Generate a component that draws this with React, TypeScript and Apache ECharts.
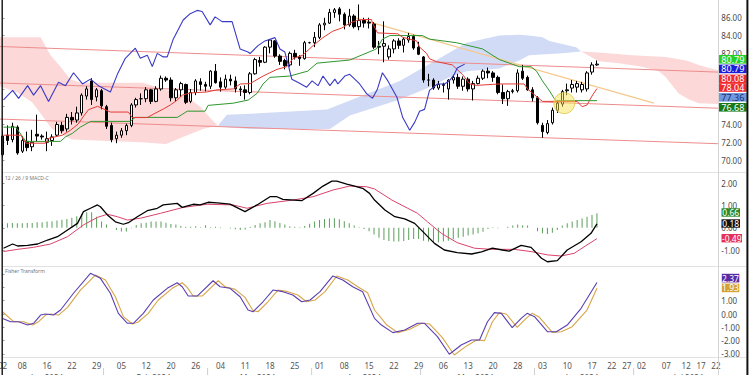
import React, { useEffect, useRef } from "react";
import * as echarts from "echarts";

const FONT = '"Noto Sans", "DejaVu Sans", sans-serif';
const SLOT_COUNT = 145;

// one slot per weekday starting 2024-01-03 (trading days + future area)
const categories: string[] = (() => {
  const out: string[] = [];
  const d = new Date(Date.UTC(2024, 0, 3));
  while (out.length < SLOT_COUNT) {
    const wd = d.getUTCDay();
    if (wd !== 0 && wd !== 6) out.push(d.toISOString().slice(0, 10));
    d.setUTCDate(d.getUTCDate() + 1);
  }
  return out;
})();

// x-axis tick labels: [slot index, text]
const tickLabels: [number, string][] = [
  [3, "08"], [8, "16"], [13, "22"], [18, "29"], [23, "05"], [28, "12"], [33, "20"], [38, "26"],
  [43, "04"], [48, "11"], [53, "18"], [58, "25"], [63, "01"], [68, "08"], [73, "15"], [78, "22"],
  [83, "29"], [88, "06"], [93, "13"], [98, "20"], [103, "28"], [108, "03"], [113, "10"], [118, "17"],
  [122, "22"], [125, "27"], [128, "02"], [133, "07"], [137, "12"], [140, "17"], [143, "22"],
];

// month band below the tick labels: [text, first slot, last slot]
const monthBands: [string, number, number][] = [
  ["Jan 2024", -2, 20], ["Feb 2024", 20, 41], ["Mar 2024", 41, 62], ["Apr 2024", 62, 84],
  ["May 2024", 84, 107], ["Jun 2024", 107, 127], ["Jul 2024", 127, 150],
];

// y-axis values whose labels sit fully under the last-value badges
const coveredMainTicks = [76, 78, 80];
const coveredFisherTicks = [2, 3];

// daily bars: [open, close, low, high]
const priceBars: number[][] = [
  [70.6, 72.7, 70.3, 73.3], [72.8, 72.2, 71.7, 73.9], [72.3, 73.8, 72.0, 74.2], [73.7, 70.8, 70.6, 73.9],
  [71.0, 72.2, 70.8, 72.7], [72.1, 71.4, 71.0, 73.2], [71.5, 72.0, 71.0, 73.4], [72.9, 72.7, 72.1, 75.1],
  [72.7, 72.6, 72.3, 72.9], [72.0, 72.4, 71.0, 73.2], [72.2, 72.6, 71.6, 72.9], [72.8, 74.0, 72.6, 74.3],
  [73.9, 73.3, 73.0, 74.3], [73.5, 74.8, 73.2, 75.2], [74.8, 74.5, 74.0, 75.4], [74.5, 75.3, 74.2, 76.0],
  [75.3, 77.3, 75.0, 77.5], [77.2, 78.0, 76.8, 78.3], [78.9, 76.8, 76.2, 79.2], [77.1, 77.9, 76.6, 78.1],
  [77.8, 76.1, 75.7, 78.0], [76.0, 73.8, 73.5, 76.2], [73.9, 72.3, 72.0, 74.2], [72.4, 72.8, 71.9, 73.2],
  [72.8, 73.3, 72.5, 73.6], [73.3, 73.9, 72.8, 74.1], [73.9, 76.2, 73.7, 76.4], [76.2, 76.8, 75.9, 77.0],
  [76.9, 76.9, 76.2, 77.5], [76.9, 77.9, 76.5, 78.2], [77.9, 76.6, 76.3, 78.0], [76.6, 78.0, 76.5, 78.3],
  [78.0, 79.2, 77.8, 79.5], [79.2, 79.0, 78.8, 79.4], [79.0, 77.0, 76.6, 79.3], [77.0, 77.9, 76.6, 78.1],
  [77.9, 78.6, 77.1, 78.8], [78.5, 76.5, 76.3, 78.6], [76.6, 77.6, 76.4, 78.0], [77.6, 78.9, 77.3, 79.1],
  [78.8, 78.5, 77.8, 79.2], [78.5, 78.3, 77.7, 78.8], [78.3, 80.0, 78.0, 80.1], [80.0, 78.7, 78.6, 80.8],
  [78.8, 78.2, 77.7, 79.3], [78.2, 79.1, 78.0, 79.6], [79.1, 78.9, 78.4, 79.6], [78.9, 78.0, 77.6, 79.4],
  [78.0, 77.9, 77.2, 78.3], [77.9, 77.6, 76.8, 78.4], [77.6, 79.7, 77.4, 79.9], [79.7, 81.3, 79.6, 81.5],
  [81.2, 81.0, 80.5, 81.6], [81.0, 82.7, 80.9, 82.8], [82.7, 83.5, 82.0, 83.6], [83.4, 81.7, 81.5, 83.5],
  [81.7, 81.1, 80.7, 81.9], [81.2, 80.6, 80.2, 81.4], [80.7, 82.0, 80.5, 82.2], [82.0, 81.6, 81.3, 82.4],
  [81.6, 81.4, 80.6, 81.8], [81.4, 83.2, 81.3, 83.4], [83.2, 83.2, 83.1, 83.3], [83.2, 83.8, 82.7, 84.4],
  [83.8, 85.2, 83.6, 85.4], [85.2, 85.4, 84.6, 86.0], [85.4, 86.6, 85.3, 87.0], [86.6, 86.9, 86.0, 87.1],
  [87.0, 86.4, 85.6, 87.2], [86.4, 85.2, 84.7, 86.6], [85.2, 86.2, 85.0, 87.0], [86.2, 85.0, 84.8, 86.4],
  [85.0, 85.7, 84.6, 87.5], [85.7, 85.4, 84.9, 86.0], [85.5, 85.4, 84.8, 86.0], [85.3, 82.7, 82.5, 85.5],
  [82.8, 82.7, 81.9, 83.4], [82.8, 83.1, 81.0, 85.6], [81.6, 82.5, 81.3, 82.9], [82.5, 83.4, 82.0, 83.6],
  [83.4, 82.9, 82.5, 83.7], [82.9, 83.6, 82.1, 83.8], [83.5, 83.9, 83.2, 84.3], [83.9, 82.6, 82.4, 84.1],
  [82.7, 81.9, 81.8, 83.3], [81.6, 79.0, 78.7, 81.7], [79.0, 79.0, 78.3, 79.7], [79.0, 78.1, 77.9, 79.2],
  [78.1, 78.5, 77.9, 78.9], [78.5, 78.4, 77.6, 78.7], [78.0, 79.0, 76.8, 79.1], [79.0, 79.3, 78.6, 79.6],
  [79.3, 78.3, 78.0, 79.7], [78.3, 79.1, 77.8, 79.4], [79.1, 78.0, 77.7, 79.3], [78.0, 78.6, 76.7, 78.9],
  [78.6, 79.2, 78.5, 79.5], [79.2, 80.0, 79.0, 80.2], [80.0, 79.8, 79.2, 80.4], [79.8, 79.3, 78.8, 80.0],
  [79.3, 77.6, 77.4, 79.5], [77.6, 76.9, 76.3, 78.5], [76.9, 77.7, 76.1, 77.9], [77.7, 77.8, 77.5, 78.0],
  [77.8, 79.8, 77.6, 80.2], [80.0, 79.2, 79.0, 80.7], [79.3, 77.9, 77.8, 79.5], [77.9, 77.0, 76.6, 78.2],
  [77.0, 74.2, 74.0, 77.2], [73.9, 73.2, 72.5, 74.2], [73.1, 74.1, 72.9, 74.5], [74.2, 75.6, 74.0, 75.9],
  [75.6, 76.4, 75.3, 76.7], [76.3, 77.7, 76.0, 77.9], [77.8, 77.9, 77.3, 78.6], [78.1, 78.5, 77.6, 79.0],
  [78.2, 78.6, 77.6, 78.9], [77.9, 78.5, 77.6, 78.8], [78.0, 79.8, 77.7, 80.0], [79.9, 80.7, 79.6, 81.0],
  [80.7, 80.79, 80.6, 81.2],
];

// Ichimoku lines: [slot position, price]
const tenkanLine: number[][] = [
  [0.2, 72.8], [3.7, 72.8], [4.7, 71.9], [8.7, 71.9], [9.3, 72.44], [12.1, 72.8], [13.7, 73.35], [15.3, 74.06],
  [16.4, 74.96], [17.4, 75.68], [19.2, 76.04], [20.4, 75.75], [21.8, 75.4], [25.4, 75.4], [26.2, 74.78],
  [29.2, 74.78], [30.4, 75.14], [32.5, 75.75], [33.9, 76.2], [35.3, 76.76], [36.3, 77.3], [37.9, 77.55],
  [41.3, 77.66], [43.3, 77.9], [46.6, 78.0], [48.0, 78.56], [50.0, 78.6], [52.6, 79.45], [55.4, 80.2],
  [57.4, 80.5], [58.6, 81.4], [60.6, 81.8], [62.7, 82.87], [64.7, 83.77], [66.7, 84.5], [68.5, 84.85],
  [70.1, 85.4], [71.5, 85.7], [72.5, 85.8], [74.5, 85.8], [74.7, 85.4], [75.7, 84.3], [79.8, 84.2],
  [80.8, 83.8], [83.6, 83.4], [84.2, 82.7], [85.6, 82.0], [86.2, 81.4], [87.6, 81.07], [90.8, 80.7],
  [92.9, 79.6], [94.3, 78.56], [95.7, 78.4], [100.3, 78.56], [105.3, 78.56], [106.0, 78.0], [106.7, 77.66],
  [109.0, 76.6], [116.0, 76.6], [117.0, 76.0], [118.0, 76.2], [119.0, 77.2], [120.0, 78.04],
];
const kijunLine: number[][] = [
  [0.2, 73.7], [2.7, 73.7], [4.7, 72.1], [11.7, 72.1], [12.7, 72.6], [14.1, 73.0], [15.7, 73.7], [17.8, 74.35],
  [25.8, 74.35], [26.8, 74.8], [35.3, 74.8], [36.3, 75.14], [37.3, 75.5], [40.9, 75.5], [41.5, 76.15],
  [46.6, 76.4], [49.6, 76.75], [51.4, 77.5], [52.6, 78.56], [54.0, 79.3], [58.0, 79.45], [61.6, 80.0],
  [63.5, 80.9], [70.1, 81.25], [75.5, 82.5], [76.7, 83.6], [78.2, 84.0], [84.8, 84.0], [86.2, 83.6],
  [91.6, 83.2], [96.9, 82.5], [100.3, 81.3], [102.3, 80.9], [104.3, 80.5], [106.7, 80.5], [107.8, 80.0],
  [109.0, 78.9], [110.4, 77.8], [111.4, 76.9], [111.8, 76.68], [120.0, 76.68],
];
const chikouLine: number[][] = [
  [0.2, 76.76], [2.05, 77.83], [3.26, 76.94], [5.07, 78.37], [6.28, 77.3], [7.69, 78.37], [9.3, 76.58],
  [11.31, 78.74], [12.72, 78.37], [14.34, 79.82], [16.15, 78.56], [17.76, 79.1], [19.37, 78.37],
  [21.78, 77.66], [23.19, 79.64], [24.8, 81.44], [26.82, 82.58], [27.82, 81.44], [29.23, 81.8],
  [30.24, 80.53], [31.25, 82.0], [32.45, 81.6], [33.26, 81.6], [34.47, 83.6], [36.48, 85.75], [37.89, 86.46],
  [39.3, 86.83], [40.3, 86.7], [41.92, 85.2], [42.92, 86.1], [44.33, 85.57], [46.35, 85.57], [47.96, 82.5],
  [49.57, 82.15], [49.97, 81.98], [51.58, 82.87], [52.99, 83.4], [55.0, 83.77], [56.0, 82.5], [57.0, 82.15],
  [57.6, 80.9], [58.4, 79.1], [59.6, 78.74], [61.4, 78.2], [62.5, 78.9], [63.7, 78.37], [64.7, 79.45],
  [66.1, 78.37], [67.1, 79.1], [67.7, 78.56], [69.1, 79.45], [70.1, 79.64], [72.1, 78.56], [73.5, 77.48],
  [74.7, 76.94], [75.7, 78.0], [76.7, 79.82], [77.8, 78.9], [79.6, 77.1], [80.8, 74.78], [82.2, 73.35],
  [83.2, 74.24], [84.2, 75.5], [85.2, 75.7], [86.2, 77.83], [87.8, 78.56], [89.2, 78.56], [90.2, 78.9],
  [91.2, 79.64], [91.8, 80.36], [93.3, 80.79],
];

// cloud outlines: [slot position, price]
const pinkCloud1Top: number[][] = [[-0.5, 83.8], [7.7, 83.8], [9.7, 81.8], [11.7, 80.5], [13.7, 79.1], [15.7, 78.7], [28.4, 78.7], [37.3, 77.1], [39.9, 76.0], [42.5, 74.4], [43.5, 73.9]];
const pinkCloud1Bottom: number[][] = [[-0.5, 78.3], [3, 77.6], [6, 76.5], [8, 75.0], [10, 73.5], [14, 72.3], [28, 72.0], [33, 71.8], [37.3, 72.8], [40.5, 73.5], [43.5, 73.9]];
const blueCloudTop: number[][] = [[43.5, 73.9], [45.3, 75.1], [50, 75.2], [65.5, 75.7], [80.2, 78.9], [87.6, 81.25], [93.7, 83.2], [100.3, 84.0], [104.3, 84.1], [106.3, 84.0], [109, 83.8], [110.4, 83.4], [113, 83.05], [115.8, 82.7], [116.8, 82.2]];
const blueCloudBottom: number[][] = [[43.5, 73.9], [45.3, 73.7], [50, 73.5], [66.1, 73.5], [70.1, 75.0], [80.2, 76.8], [86.2, 78.2], [90.2, 79.3], [93.7, 80.0], [100.3, 80.3], [104.3, 81.2], [106.3, 81.8], [113, 82.0], [116.8, 82.2]];
const pinkCloud2Top: number[][] = [[116.8, 82.2], [120.4, 82.1], [127.1, 81.8], [133.9, 81.6], [138, 81.2], [141, 80.6], [144.5, 80.1]];
const pinkCloud2Bottom: number[][] = [[116.8, 82.2], [120.4, 81.1], [124.5, 80.9], [129.1, 80.5], [132.5, 80.0], [133.9, 79.3], [136.5, 77.5], [138.6, 76.8], [140.6, 76.4], [144.5, 76.3]];

// drawn channel and trend line: endpoints [slot position, price]
const channelTop: number[][] = [[-0.5, 82.77], [144.5, 79.89]];
const channelMid: number[][] = [[-0.5, 78.67], [144.5, 75.83]];
const channelLow: number[][] = [[-0.5, 74.61], [144.5, 71.84]];
const trendLine: number[][] = [[70.5, 86.1], [131.5, 76.4]];
const highlightSpot: number[] = [113.4, 76.4];
const pointTags: { name: string; value: number[] }[] = [
  { name: "P1", value: [90.2, 75.7] },
  { name: "P2", value: [104.7, 81.33] },
  { name: "P3", value: [108.7, 71.65] },
];

// MACD pane
const macdHistogram: number[] = [
  0.18, 0.2, 0.22, 0.2, 0.2, 0.22, 0.22, 0.25, 0.25, 0.28, 0.3,
  0.33, 0.36, 0.4, 0.45, 0.52, 0.62, 0.7, 0.7, 0.5, 0.28,
  0.15, 0.0, -0.1, -0.17, -0.17, -0.02, 0.13, 0.2, 0.23, 0.28,
  0.28, 0.28, 0.23, 0.17, 0.15, 0.08, 0.05, 0.05, 0.07, 0.03,
  0.12, 0.03, 0.05, 0.03, 0.0, -0.03, -0.07, -0.1, -0.08, 0.05,
  0.13, 0.2, 0.25, 0.35, 0.3, 0.22, 0.15, 0.07, 0.05, 0.03,
  0.08, 0.18, 0.28, 0.35, 0.4, 0.42, 0.43, 0.38, 0.3, 0.2,
  0.1, 0.02, -0.05, -0.15, -0.3,
  -0.45, -0.55, -0.6, -0.62, -0.62, -0.6, -0.55, -0.5, -0.5, -0.58,
  -0.62, -0.65, -0.65, -0.62, -0.58, -0.52, -0.45, -0.4, -0.35, -0.3,
  -0.25, -0.18, -0.05, 0.02, -0.02, 0.0, 0.05, 0.1, 0.15, 0.12,
  0.1, 0.0, -0.15, -0.25, -0.28, -0.22, -0.1, 0.1, 0.2, 0.28,
  0.35, 0.42, 0.5, 0.58, 0.66,
];
const macdLine: number[][] = [
  [0.2, -0.92], [2.05, -0.73], [3.06, -0.82], [5.07, -0.79], [7.09, -0.73], [9.1, -0.55], [11.11, -0.4],
  [13.13, -0.1], [15.14, 0.2], [16.35, 0.73], [17.76, 0.88], [19.17, 1.03], [19.77, 0.95], [21.18, 0.58],
  [22.79, 0.27], [24.4, 0.16], [25.41, 0.23], [27.22, 0.5], [29.23, 0.77], [31.25, 0.88], [32.45, 1.03],
  [35.27, 1.1], [36.28, 0.92], [38.49, 1.06], [39.9, 1.03], [41.51, 1.15], [43.33, 1.12], [45.94, 1.07],
  [48.96, 0.73], [51.38, 1.03], [54.0, 1.4], [55.4, 1.4], [56.6, 1.28], [60.4, 1.22], [62.7, 1.55],
  [64.7, 1.88], [66.5, 2.1], [67.5, 2.1], [69.5, 1.97], [70.7, 1.9], [72.7, 1.78], [74.1, 1.55],
  [75.1, 1.25], [77.2, 0.8], [79.2, 0.5], [81.2, 0.4], [83.2, 0.2], [85.2, -0.25], [87.2, -0.7],
  [89.2, -1.0], [91.8, -1.12], [94.7, -1.18], [96.7, -1.08], [98.9, -0.92], [100.9, -1.0], [102.3, -1.05],
  [104.7, -0.79], [106.7, -0.88], [108.8, -1.37], [110.0, -1.53], [112.0, -1.48], [114.0, -1.0],
  [116.8, -0.63], [118.8, -0.25], [120.0, 0.18],
];
const signalLine: number[][] = [
  [0.2, -1.07], [3.06, -0.97], [6.28, -0.88], [9.7, -0.73], [13.13, -0.4], [16.35, 0.13], [19.17, 0.47],
  [21.18, 0.61], [23.19, 0.5], [25.21, 0.35], [27.82, 0.43], [31.85, 0.65], [36.48, 0.92], [41.31, 1.06],
  [46.55, 1.03], [49.37, 0.88], [53.39, 1.1], [58.6, 1.25], [62.7, 1.4], [66.7, 1.7], [70.1, 1.88],
  [73.5, 1.85], [75.1, 1.75], [78.6, 1.25], [81.8, 0.88], [83.8, 0.65], [85.8, 0.27], [88.6, -0.25],
  [91.8, -0.67], [95.3, -0.92], [98.7, -0.97], [103.3, -0.97], [106.7, -1.07], [110.0, -1.22],
  [112.8, -1.27], [115.4, -1.15], [118.0, -0.77], [120.0, -0.49],
];

// Fisher Transform pane
const fisherLine: number[][] = [
  [0.04, -0.33], [1.65, -0.58], [3.26, -0.58], [5.07, -0.83], [6.28, -0.7], [7.69, -0.08], [8.7, 0],
  [10.31, -0.08], [11.72, 0.3], [14.34, 1.56], [17.76, 3.06], [19.77, 2.68], [21.78, 1.56], [23.39, 0.05],
  [25.21, -0.7], [26.42, -0.7], [28.43, 0.05], [30.44, 1.05], [33.26, 1.93], [35.27, 2.35], [36.28, 2.05],
  [37.49, 1.35], [39.3, 1.35], [42.52, 2.5], [43.93, 2.05], [45.94, 1.93], [47.96, 1.3], [49.57, 0.3],
  [50.58, 0.17], [52.59, 0.92], [54.6, 1.8], [56.6, 1.68], [58.6, 1.43], [60.4, 0.92], [62.1, 1.05],
  [64.1, 1.68], [66.7, 2.86], [68.7, 2.56], [70.7, 2.05], [72.7, 1.68], [75.1, -0.33], [76.5, -0.83],
  [78.8, -1.4], [81.2, -1.2], [83.8, -0.7], [85.2, -0.7], [87.8, -1.7], [90.2, -3.03], [92.6, -2.33],
  [94.7, -1.95], [96.3, -1.95], [97.9, -0.58], [99.3, 0.1], [100.7, 0.05], [102.9, -1.03], [104.7, -0.33],
  [105.9, 0.05], [107.4, -0.2], [110.0, -1.33], [111.8, -1.33], [114.0, -0.83], [116.8, 0.43], [120.0, 2.37],
];
const triggerLine: number[][] = [
  [0.0, 0.17], [2.25, -0.58], [4.27, -0.58], [6.08, -0.83], [7.29, -0.58], [8.7, -0.08], [9.7, 0],
  [11.31, -0.08], [13.13, 0.5], [15.74, 1.8], [18.76, 2.93], [20.78, 2.55], [22.79, 1.3], [24.4, -0.2],
  [26.21, -0.75], [27.42, -0.6], [29.43, 0.05], [31.45, 1.05], [34.27, 1.93], [36.28, 2.35], [37.29, 2.0],
  [38.49, 1.35], [40.31, 1.35], [43.53, 2.5], [44.94, 2.05], [46.95, 1.85], [48.96, 1.25], [50.58, 0.25],
  [51.58, 0.17], [53.59, 0.92], [55.6, 1.8], [57.6, 1.68], [59.6, 1.43], [61.4, 0.92], [63.1, 1.05],
  [65.1, 1.68], [67.5, 2.86], [69.7, 2.56], [71.7, 2.05], [73.7, 1.6], [75.1, 0.3], [77.6, -0.83],
  [79.8, -1.4], [82.2, -1.15], [84.6, -0.7], [86.2, -0.75], [88.8, -1.78], [91.2, -3.08], [93.7, -2.4],
  [95.7, -1.95], [97.3, -2.0], [98.9, -0.58], [100.3, 0.1], [101.7, 0], [103.9, -1.0], [105.7, -0.33],
  [106.9, 0.05], [108.4, -0.25], [111.0, -1.38], [112.8, -1.33], [115.0, -0.95], [118.0, 0.3], [120.0, 1.93],
];

// last-value badges
const priceBadges = [
  { text: "80.79", bg: "#24d024", fg: "#ffffff", y: 55 },
  { text: "80.79", bg: "#1c1cd9", fg: "#ffffff", y: 64.6 },
  { text: "80.08", bg: "#f02b2b", fg: "#ffffff", y: 74.6 },
  { text: "78.04", bg: "#f02b2b", fg: "#ffffff", y: 83.2 },
  { text: "77.36", bg: "#6e98e0", fg: "#1e2e6e", y: 93 },
  { text: "76.68", bg: "#177a17", fg: "#ffffff", y: 103 },
];
const macdBadges = [
  { text: "0.66", bg: "#2a8a2a", fg: "#ffffff", y: 208.3, w: 18.5 },
  { text: "0.18", bg: "#111111", fg: "#ffffff", y: 219.3, w: 18.5 },
  { text: "-0.49", bg: "#e3305c", fg: "#ffffff", y: 234, w: 20.5 },
];
const fisherBadges = [
  { text: "2.37", bg: "#5a2aa3", fg: "#ffffff", y: 273.8, w: 17.5 },
  { text: "1.93", bg: "#d4a134", fg: "#ffffff", y: 283.6, w: 17.5 },
];

const GRID_LEFT = -1.88;
const GRID_WIDTH = 720.2;

function lineSeries(data: number[][], xAxisIndex: number, yAxisIndex: number, color: string, width: number, z = 4) {
  return {
    type: "line", xAxisIndex, yAxisIndex, data, showSymbol: false, symbol: "none", silent: true, z,
    lineStyle: { color, width }, animation: false,
  };
}

function cloudSeries(top: number[][], bottom: number[][], color: string) {
  return {
    type: "custom", xAxisIndex: 1, yAxisIndex: 0, silent: true, z: 1,
    data: [[50, 78]],
    renderItem: (_p: any, api: any) => {
      const pts = [...top, ...bottom.slice().reverse()].map((p) => api.coord(p));
      return { type: "polygon", shape: { points: pts }, style: { fill: color } };
    },
  };
}

function yAxisStyle(covered: number[]) {
  return {
    position: "right",
    axisLine: { show: false },
    axisTick: { show: true, length: 2, lineStyle: { color: "#999" } },
    splitLine: { show: false },
    axisLabel: {
      fontSize: 8, color: "#4a4a4a", fontFamily: FONT, margin: 3,
      showMinLabel: false, showMaxLabel: false,
      formatter: (v: number) => (covered.indexOf(v) >= 0 ? "" : v.toFixed(2)),
    },
  };
}

function buildOption() {
  const labelMap = new Map<number, string>(tickLabels.map(([i, t]) => [i, t]));
  const hidden = { show: false, splitLine: { show: false } };
  return {
    animation: false,
    backgroundColor: "#ffffff",
    textStyle: { fontFamily: FONT },
    grid: [
      { left: GRID_LEFT, width: GRID_WIDTH, top: -7.54, height: 185.4 },
      { left: GRID_LEFT, width: GRID_WIDTH, top: 161.2, height: 111 },
      { left: GRID_LEFT, width: GRID_WIDTH, top: 260.8, height: 106.4 },
      { left: GRID_LEFT, width: GRID_WIDTH, top: 357, height: 1 },
    ],
    xAxis: [
      { type: "category", gridIndex: 0, data: categories, ...hidden },
      { type: "value", gridIndex: 0, min: -0.5, max: 144.5, ...hidden },
      { type: "category", gridIndex: 1, data: categories, ...hidden },
      { type: "value", gridIndex: 1, min: -0.5, max: 144.5, ...hidden },
      { type: "value", gridIndex: 2, min: -0.5, max: 144.5, ...hidden },
      {
        type: "category", gridIndex: 3, data: categories,
        axisLine: { show: false }, axisTick: { show: false }, splitLine: { show: false },
        axisLabel: {
          interval: (idx: number) => labelMap.has(idx),
          formatter: (_v: string, idx: number) => labelMap.get(idx) || "",
          fontSize: 8, color: "#555", fontFamily: FONT, margin: 3, padding: [0, 0, 0, 10],
        },
      },
    ],
    yAxis: [
      { type: "value", gridIndex: 0, min: 68, max: 88, interval: 2, ...yAxisStyle(coveredMainTicks) },
      { type: "value", gridIndex: 1, min: -2, max: 3, interval: 1, ...yAxisStyle([]) },
      { type: "value", gridIndex: 2, min: -4, max: 4, interval: 1, ...yAxisStyle(coveredFisherTicks) },
      { type: "value", gridIndex: 3, show: false, splitLine: { show: false } },
    ],
    series: [
      cloudSeries(pinkCloud1Top, pinkCloud1Bottom, "#fcd8d8"),
      cloudSeries(blueCloudTop, blueCloudBottom, "#d2dbf6"),
      cloudSeries(pinkCloud2Top, pinkCloud2Bottom, "#fcd8d8"),
      lineSeries(channelTop, 1, 0, "#ee8c8c", 1, 2),
      lineSeries(channelMid, 1, 0, "#ee8c8c", 1, 2),
      lineSeries(channelLow, 1, 0, "#ee8c8c", 1, 2),
      lineSeries(trendLine, 1, 0, "#f5c88a", 1.2, 2),
      {
        type: "candlestick", xAxisIndex: 0, yAxisIndex: 0, data: priceBars, barWidth: 3, z: 3, silent: true,
        itemStyle: { color: "#ffffff", color0: "#000000", borderColor: "#000000", borderColor0: "#000000", borderWidth: 1 },
      },
      lineSeries(kijunLine, 1, 0, "#2e962e", 1),
      lineSeries(tenkanLine, 1, 0, "#e33b35", 1),
      lineSeries(chikouLine, 1, 0, "#3a3ac6", 1.1),
      {
        type: "scatter", xAxisIndex: 1, yAxisIndex: 0, data: [highlightSpot], symbolSize: 21, silent: true, z: 5,
        itemStyle: { color: "rgba(246, 226, 80, 0.6)", borderColor: "#e2c54a", borderWidth: 1 },
      },
      {
        type: "scatter", xAxisIndex: 1, yAxisIndex: 0, data: pointTags, symbolSize: 1, silent: true, z: 6,
        itemStyle: { opacity: 0 },
        label: { show: true, position: "inside", formatter: (p: any) => p.name, color: "#c73d86", fontSize: 9, fontFamily: FONT },
      },
      {
        type: "bar", xAxisIndex: 2, yAxisIndex: 1, data: macdHistogram, barWidth: 1, silent: true, z: 2,
        itemStyle: { color: "#5a9e5a" },
      },
      lineSeries(signalLine, 3, 1, "#d9436b", 1),
      lineSeries(macdLine, 3, 1, "#000000", 1.3),
      lineSeries(triggerLine, 4, 2, "#d8a548", 1.1),
      lineSeries(fisherLine, 4, 2, "#5b3fb2", 1.1),
    ],
  };
}

function badge(x: number, y: number, w: number, h: number, text: string, bg: string, fg: string, size: number) {
  return [
    { type: "rect", z: 100, silent: true, shape: { x, y, width: w, height: h }, style: { fill: bg } },
    {
      type: "text", z: 101, silent: true, x: x + w / 2, y: y + h / 2,
      style: { text, fill: fg, font: `${size}px ${FONT}`, align: "center", verticalAlign: "middle", textAlign: "center", textVerticalAlign: "middle" },
    },
  ];
}

function txt(x: number, y: number, text: string, size: number, color: string, align = "left") {
  return {
    type: "text", z: 50, silent: true, x, y,
    style: { text, fill: color, font: `${size}px ${FONT}`, align, verticalAlign: "middle", textAlign: align, textVerticalAlign: "middle" },
  };
}

function hline(y: number, x1: number, x2: number, color: string) {
  return { type: "line", z: 40, silent: true, shape: { x1, y1: y, x2, y2: y }, style: { stroke: color, lineWidth: 1 } };
}
function vline(x: number, y1: number, y2: number, color: string, w = 1) {
  return { type: "line", z: 40, silent: true, shape: { x1: x, y1, x2: x, y2 }, style: { stroke: color, lineWidth: w } };
}

function buildGraphics(px: (v: number) => number) {
  const g: any[] = [];
  g.push(hline(172.5, 2, 746, "#e2e2e2"));
  g.push(hline(266.5, 2, 746, "#e2e2e2"));
  g.push(hline(357.5, 2, 746, "#e2e2e2"));
  g.push(vline(718.5, 0, 375, "#d4d4d4"));
  g.push(txt(5, 178, "12 / 26 / 9 MACD-C", 5, "#777"));
  g.push(txt(5, 271, "Fisher Transform", 5, "#777"));
  g.push(txt(px(-1) + 5, 365.5, "02", 8, "#555", "center"));
  monthBands.forEach(([name, from, to]) => {
    if (from > -1) g.push(vline(px(from) + 2, 368, 375, "#cfcfcf"));
    g.push(txt(px((from + to) / 2), 377, name, 8, "#555", "center"));
  });
  priceBadges.forEach((b) => g.push(...badge(719, b.y, 27.7, 8.6, b.text, b.bg, b.fg, 9)));
  macdBadges.forEach((b) => g.push(...badge(721.5, b.y, b.w, 8.4, b.text, b.bg, b.fg, 8.5)));
  fisherBadges.forEach((b) => g.push(...badge(721.8, b.y, b.w, 8.6, b.text, b.bg, b.fg, 8.5)));
  g.push({ type: "rect", z: 120, silent: true, shape: { x: 1.5, y: 0, width: 1.4, height: 375 }, style: { fill: "#111" } });
  g.push({ type: "rect", z: 120, silent: true, shape: { x: 746.4, y: 0, width: 2, height: 375 }, style: { fill: "#111" } });
  return g;
}

export default function App() {
  const ref = useRef<HTMLDivElement>(null);
  useEffect(() => {
    if (!ref.current) return;
    const chart = echarts.init(ref.current, null, { renderer: "svg" });
    chart.setOption(buildOption() as any);
    const px = (v: number) => chart.convertToPixel({ xAxisIndex: 1 }, v) as number;
    chart.setOption({ graphic: buildGraphics(px) } as any);
    return () => chart.dispose();
  }, []);
  return (
    <div
      ref={ref}
      style={{ position: "fixed", left: 0, top: 0, width: 750, height: 375, background: "#ffffff" }}
    />
  );
}
